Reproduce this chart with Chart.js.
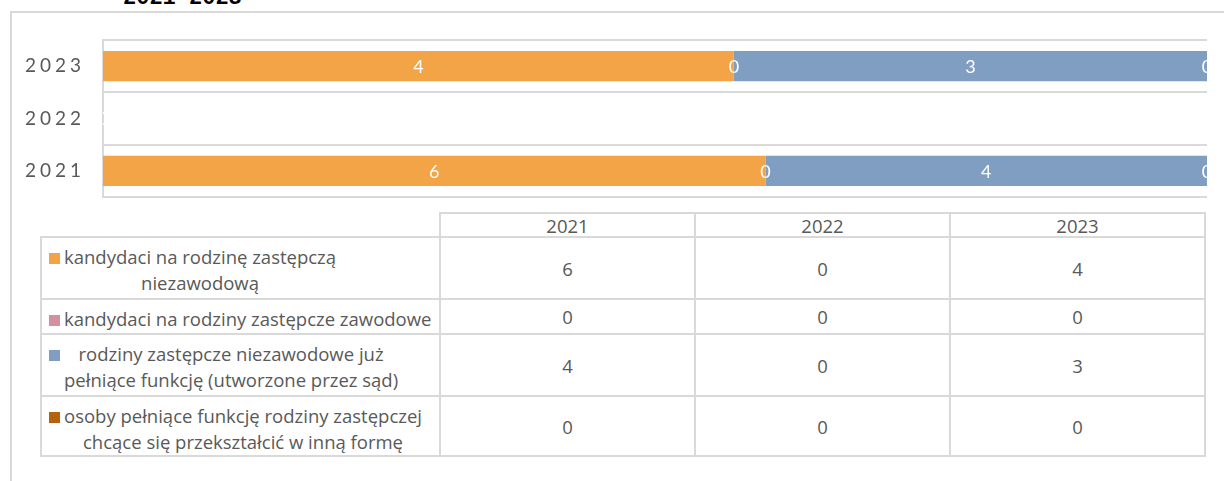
<!DOCTYPE html>
<html>
<head>
<meta charset="utf-8">
<script src="https://cdn.jsdelivr.net/npm/chart.js@4"></script>
<style>
  body { margin: 0; background: #fff; width: 1224px; height: 481px; overflow: hidden; position: relative; font-family: "Open Sans", sans-serif; }
  #title { position: absolute; left: 123px; top: -14px; font: bold 22px "Liberation Mono", monospace; color: #000; }
  #frame { position: absolute; left: 10px; top: 11px; width: 1300px; height: 600px; border-left: 2px solid #d9d9d9; border-top: 2px solid #d9d9d9; }
  #wrap { position: absolute; left: 0; top: 0; width: 1224px; height: 210px; }
  #tbl { position: absolute; left: 40px; top: 212px; display: grid; grid-template-columns: 401px 255px 255px 255px; grid-template-rows: 26px 62px 35px 62px 60px; color: #595959; font-size: 18.5px; }
  #tbl div.c { box-sizing: border-box; border-right: 2px solid #d9d9d9; border-bottom: 2px solid #d9d9d9; display: flex; align-items: center; justify-content: center; }
  #tbl div.head { border-top: 2px solid #d9d9d9; }
  #tbl div.name { border-left: 2px solid #d9d9d9; align-items: flex-start; justify-content: flex-start; padding: 6px 0 0 7px; }
  .sq { width: 11px; height: 11px; margin: 9px 4px 0 0; flex: none; }
  .txt { text-align: center; line-height: 26px; }
</style>
</head>
<body>
<div id="title">2021-2023</div>
<div id="frame"></div>
<div id="wrap"><canvas id="chart"></canvas></div>
<div id="tbl"></div>
<script>
const categories = ["2021", "2022", "2023"];
const seriesNames = [
    ["kandydaci na rodzinę zastępczą", "niezawodową"],
    ["kandydaci na rodziny zastępcze zawodowe"],
    ["rodziny zastępcze niezawodowe już", "pełniące funkcję (utworzone przez sąd)"],
    ["osoby pełniące funkcję rodziny zastępczej", "chcące się przekształcić w inną formę"]
];
const seriesColors = ["#f2a446", "#d4909f", "#809ec2", "#b4620f"];
const candidatesNonProf = [6, 0, 4];
const candidatesProf = [0, 0, 0];
const existingFamilies = [4, 0, 3];
const changingForm = [0, 0, 0];
const seriesValues = [candidatesNonProf, candidatesProf, existingFamilies, changingForm];

// 100% stacked: share of each year's total
const totals = categories.map((c, i) => seriesValues.reduce((s, arr) => s + arr[i], 0));
const shares = seriesValues.map(arr => arr.map((v, i) => totals[i] ? v / totals[i] * 100 : 0));

const tickSpacing = {
    id: "tickSpacing",
    beforeDraw(chart) { chart.ctx.letterSpacing = "4px"; },
    beforeDatasetsDraw(chart) { chart.ctx.letterSpacing = "0px"; }
};

const valueLabels = {
    id: "valueLabels",
    afterDatasetsDraw(chart) {
        const ctx = chart.ctx, area = chart.chartArea;
        ctx.save();
        ctx.beginPath();
        ctx.rect(area.left, area.top, area.right - area.left, area.bottom - area.top);
        ctx.clip();
        ctx.fillStyle = "#fff";
        ctx.font = "18px Lato";
        ctx.textAlign = "center";
        ctx.textBaseline = "middle";
        chart.data.datasets.forEach((ds, d) => {
            chart.getDatasetMeta(d).data.forEach((bar, i) => {
                ctx.fillText(String(seriesValues[d][i]), (bar.x + bar.base) / 2, bar.y + 1);
            });
        });
        ctx.restore();
    }
};

new Chart(document.getElementById("chart"), {
    type: "bar",
    data: {
        labels: categories,
        datasets: seriesNames.map((name, d) => ({
            label: name.join(" "),
            data: shares[d],
            backgroundColor: seriesColors[d],
            borderWidth: 0,
            categoryPercentage: 1,
            barPercentage: 0.575
        }))
    },
    options: {
        indexAxis: "y",
        responsive: true,
        maintainAspectRatio: false,
        animation: false,
        layout: { padding: { top: 40, right: 17, bottom: 13, left: 0 } },
        plugins: { legend: { display: false }, tooltip: { enabled: false } },
        scales: {
            x: { stacked: true, min: 0, max: 100, display: false },
            y: {
                stacked: true,
                reverse: true,
                afterFit(scale) {
                    scale.width = 103;
                    scale.paddingTop = 0;
                    scale.paddingBottom = 0;
                },
                grid: { color: "#d9d9d9", lineWidth: 2, drawTicks: false, offset: true },
                border: { color: "#d9d9d9", width: 2 },
                ticks: { color: "#595959", font: { family: "Lato", size: 19 }, padding: 18 }
            }
        }
    },
    plugins: [tickSpacing, valueLabels]
});

// data table under the chart
let html = '<div class="c"></div>';
html += categories.map(c => '<div class="c head">' + c + "</div>").join("");
seriesNames.forEach((name, d) => {
    html += '<div class="c name"><span class="sq" style="background:' + seriesColors[d] + '"></span><span class="txt">' + name.join("<br>") + "</span></div>";
    html += seriesValues[d].map(v => '<div class="c">' + v + "</div>").join("");
});
document.getElementById("tbl").innerHTML = html;
</script>
</body>
</html>
